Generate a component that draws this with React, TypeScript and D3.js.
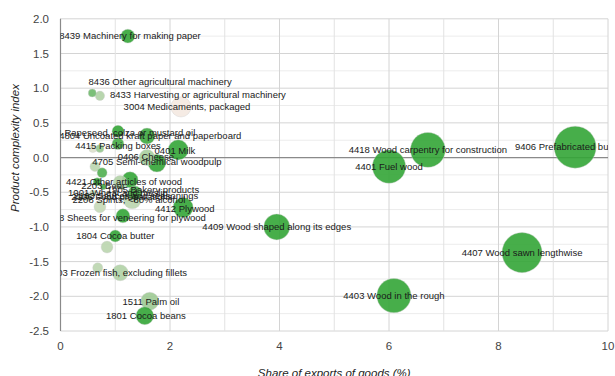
import React from "react";
import * as d3 from "d3";

const W = 615;
const H = 376;

// Bubble data
const codes = ["8439","8436","8433","3004","1514","4804","4415","0401","0406","4705","","","","","4421","","2203","1905","1001","2208","2106","2103","","","4412","4408","1804","","0303","","1511","1801","4418","4401","9406","4409","4407","4403"];
const names = ["Machinery for making paper","Other agricultural machinery","Harvesting or agricultural machinery","Medicaments, packaged","Rapeseed, colza or mustard oil","Uncoated kraft paper and paperboard","Packing boxes","Milk","Cheese","Semi-chemical woodpulp","","","","","Other articles of wood","","Beer","Bakery products","Wheat and meslin","Spirits, <80% alcohol","Food preparations","Sauces and seasonings","","","Plywood","Sheets for veneering for plywood","Cocoa butter","","Frozen fish, excluding fillets","","Palm oil","Cocoa beans","Wood carpentry for construction","Fuel wood","Prefabricated buildings","Wood shaped along its edges","Wood sawn lengthwise","Wood in the rough"];
const shares = [1.23,0.58,0.72,2.20,1.05,1.58,1.05,2.15,1.58,1.76,0.59,0.72,0.63,0.76,0.67,0.78,1.09,1.27,1.36,1.31,0.59,0.50,0.36,0.72,2.24,1.14,1.00,0.85,1.09,0.68,1.63,1.54,6.71,6.00,9.40,3.95,8.43,6.09];
const complexity = [1.75,0.93,0.89,0.73,0.38,0.31,0.20,0.11,0.00,-0.08,0.13,0.13,-0.13,-0.22,-0.35,-0.42,-0.36,-0.32,-0.51,-0.61,-0.51,-0.57,-0.58,-0.71,-0.72,-0.84,-1.13,-1.29,-1.66,-1.59,-2.07,-2.28,0.11,-0.13,0.15,-1.00,-1.37,-1.99];
const exportValue = [11,3.6,5,23,8,14.5,8,23,14.5,18,3.6,3.6,5.7,5.7,3.6,2,11,14.5,11,18,2,3.6,2,8,23,11,8,8,14.5,5.7,18,18,69,63,100,38,91,66];
const growth = [1,0.7,0.35,0,1,0.95,0.9,1,0.4,1,0.12,0.5,0.3,0.85,1,0.9,0.35,1,0.9,0.3,0.3,0.25,0.2,0.25,1,1,1,0.3,0.35,0.3,0.45,1,1,1,1,1,1,1];
// label anchor (data units); null = on the bubble
const labelShare: (number | null)[] = [1.27,1.82,2.51,2.31,null,1.64,null,2.09,1.56,null,null,null,null,null,1.16,null,0.78,1.69,1.05,1.25,1.12,1.38,null,null,2.27,1.17,null,null,1.03,null,1.65,1.56,null,null,null,null,null,null];
const labelComplexity: (number | null)[] = [null,1.09,0.90,null,0.36,null,0.17,0.10,0.01,-0.06,null,null,null,null,-0.35,null,-0.41,-0.46,-0.51,-0.61,-0.57,-0.55,null,null,-0.73,-0.86,null,null,null,null,-2.08,null,null,null,null,null,null,null];

const xTicks = [0, 2, 4, 6, 8, 10];
const yTicks = [2.0, 1.5, 1.0, 0.5, 0.0, -0.5, -1.0, -1.5, -2.0, -2.5];

const xTitle = "Share of exports of goods (%)";
const yTitle = "Product complexity index";

export default function App() {
  const x = d3.scaleLinear().domain([0, 10]).range([60.5, 608]);
  const y = d3.scaleLinear().domain([-2.5, 2]).range([331, 18.8]);
  const r = d3.scaleSqrt().domain([0, d3.max(exportValue) as number]).range([0, 21]);
  const color = d3.scaleLinear<string>().domain([0, 1]).range(["#f4e9e1", "#33a536"]).interpolate(d3.interpolateRgb);

  const xMinor = d3.range(0, 10.001, 1);
  const yMinor = d3.range(-2.5, 2.001, 0.25);

  const items = codes.map((c, i) => ({
    code: c,
    name: names[i],
    x: shares[i],
    y: complexity[i],
    s: exportValue[i],
    g: growth[i],
    lx: labelShare[i] ?? shares[i],
    ly: labelComplexity[i] ?? complexity[i],
  }));
  const ordered = [...items].sort((a, b) => b.s - a.s);

  const [x0, x1] = x.range();
  const [yb, yt] = y.range();
  const font = "Arial, 'Liberation Sans', sans-serif";

  return (
    <svg width={W} height={H} style={{ position: "absolute", left: 0, top: 0, background: "#fff" }} fontFamily={font}>
      <defs>
        <clipPath id="plot">
          <rect x={x0} y={yt} width={x1 - x0} height={yb - yt} />
        </clipPath>
      </defs>
      {/* grid */}
      {yMinor.map((v) => (
        <line key={"ym" + v} x1={x0} x2={x1} y1={y(v)} y2={y(v)} stroke={Math.abs((v * 2) % 1) < 1e-6 ? "#d4d4d4" : "#ececec"} strokeWidth={1} />
      ))}
      {xMinor.map((v) => (
        <line key={"xm" + v} x1={x(v)} x2={x(v)} y1={yt} y2={yb} stroke={v % 2 === 0 ? "#d4d4d4" : "#e2e2e2"} strokeWidth={1} />
      ))}
      {/* baselines */}
      <line x1={x0} x2={x1} y1={y(0)} y2={y(0)} stroke="#8a8a8a" strokeWidth={1.2} />
      <line x1={x(0)} x2={x(0)} y1={yt} y2={yb} stroke="#8a8a8a" strokeWidth={1.2} />

      {/* ticks */}
      {yTicks.map((v) => (
        <text key={"yt" + v} x={49} y={y(v)} dy="0.35em" textAnchor="end" fontSize={11.5} fill="#444">
          {v.toFixed(1)}
        </text>
      ))}
      {xTicks.map((v) => (
        <text key={"xt" + v} x={x(v)} y={346} dy="0.35em" textAnchor="middle" fontSize={11.5} fill="#444">
          {v}
        </text>
      ))}

      {/* bubbles */}
      <g clipPath="url(#plot)">
        {ordered.map((d, i) => (
          <circle key={"b" + i} cx={x(d.x)} cy={y(d.y)} r={r(d.s)} fill={color(d.g)} fillOpacity={0.9} stroke="#cfcfcf" strokeOpacity={0.5} strokeWidth={0.8} />
        ))}
        {items
          .filter((d) => d.code !== "")
          .map((d, i) => (
            <text key={"l" + i} x={x(d.lx)} y={y(d.ly)} dy="0.35em" textAnchor="middle" fontSize={9.5} fill="#1a1a1a">
              {d.code + " " + d.name}
            </text>
          ))}
      </g>

      {/* axis titles */}
      <text x={(x0 + x1) / 2} y={377} textAnchor="middle" fontSize={11.5} fontStyle="italic" fill="#222">
        {xTitle}
      </text>
      <text transform={`translate(19,148) rotate(-90)`} textAnchor="middle" fontSize={11.5} fontStyle="italic" fill="#222">
        {yTitle}
      </text>
    </svg>
  );
}
